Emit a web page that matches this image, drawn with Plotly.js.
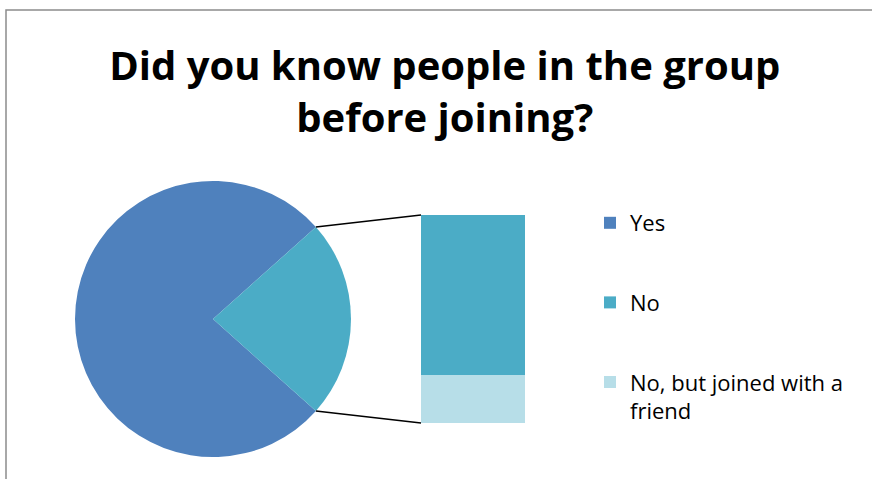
<!DOCTYPE html>
<html>
<head>
<meta charset="utf-8">
<script src="https://cdn.plot.ly/plotly-3.0.1.min.js"></script>
<style>html,body{margin:0;padding:0;background:#fff}#chart{width:872px;height:479px}</style>
</head>
<body>
<div id="chart"></div>
<script>
// ---- data ----
const categories = ["Yes", "No", "No, but joined with a friend"];
const legendLabels = ["Yes", "No", "No, but joined with a<br>friend"];
const values = [43, 10, 3];
const colors = ["#4F81BD", "#4BACC6", "#B7DEE8"];
const titleText = "Did you know people in the group<br>before joining?";

// ---- layout constants (pixels) ----
const W = 872, H = 479;
const pieCx = 213, pieCy = 319, pieR = 138;
const barL = 421, barR = 525, barT = 215, barB = 423;
const px = x => x / W;
const py = y => 1 - y / H;

const otherTotal = values[1] + values[2];
const total = values[0] + otherTotal;
const halfDeg = otherTotal / total * 180;
const halfRad = halfDeg * Math.PI / 180;

const traces = [
  {
    type: "pie",
    labels: ["Yes", "Other"],
    values: [values[0], otherTotal],
    marker: {colors: [colors[0], colors[1]], line: {width: 0}},
    sort: false,
    direction: "clockwise",
    rotation: 90 + halfDeg,
    textinfo: "none",
    hoverinfo: "label+value",
    showlegend: false,
    domain: {x: [px(pieCx - pieR), px(pieCx + pieR)], y: [py(pieCy + pieR), py(pieCy - pieR)]}
  },
  {
    type: "bar", name: legendLabels[0], x: ["Other"], y: [null],
    marker: {color: colors[0]}, legendrank: 1, legendgroup: "a", xaxis: "x", yaxis: "y"
  },
  {
    type: "bar", name: legendLabels[2], x: ["Other"], y: [values[2]],
    marker: {color: colors[2]}, legendrank: 3, legendgroup: "c", xaxis: "x", yaxis: "y"
  },
  {
    type: "bar", name: legendLabels[1], x: ["Other"], y: [values[1]],
    marker: {color: colors[1]}, legendrank: 2, legendgroup: "b", xaxis: "x", yaxis: "y"
  }
];

// connector lines from pie "other" slice edges to the bar
const edgeTop = [pieCx + pieR * Math.cos(halfRad), pieCy - pieR * Math.sin(halfRad)];
const edgeBot = [pieCx + pieR * Math.cos(halfRad), pieCy + pieR * Math.sin(halfRad)];

const layout = {
  width: W, height: H,
  margin: {l: 0, r: 0, t: 0, b: 0},
  paper_bgcolor: "#fff", plot_bgcolor: "rgba(0,0,0,0)",
  font: {family: "'Open Sans', sans-serif", color: "#000"},
  title: {
    text: titleText,
    font: {family: "'Open Sans', sans-serif", size: 40, weight: 700, color: "#000"},
    x: 0.51, xanchor: "center", y: py(80), yanchor: "middle"
  },
  barmode: "stack",
  bargap: 0,
  xaxis: {domain: [px(barL), px(barR)], visible: false, fixedrange: true},
  yaxis: {domain: [py(barB), py(barT)], range: [0, otherTotal], visible: false, fixedrange: true},
  showlegend: true,
  legend: {
    x: px(590), y: py(202), xanchor: "left", yanchor: "top",
    font: {size: 22, family: "'Open Sans', sans-serif", color: "#000"},
    tracegroupgap: 48, valign: "top", bgcolor: "rgba(0,0,0,0)"
  },
  shapes: [
    {type: "rect", xref: "paper", yref: "paper", x0: px(6), x1: px(W + 10), y0: py(H + 10), y1: py(10),
     line: {color: "#8c8c8c", width: 1.5}, fillcolor: "rgba(0,0,0,0)", layer: "below"},
    {type: "line", xref: "paper", yref: "paper", x0: px(edgeTop[0]), y0: py(edgeTop[1]), x1: px(barL), y1: py(barT),
     line: {color: "#000", width: 1.5}},
    {type: "line", xref: "paper", yref: "paper", x0: px(edgeBot[0]), y0: py(edgeBot[1]), x1: px(barL), y1: py(barB),
     line: {color: "#000", width: 1.5}}
  ]
};

Plotly.newPlot("chart", traces, layout, {displayModeBar: false, staticPlot: true});
</script>
</body>
</html>
